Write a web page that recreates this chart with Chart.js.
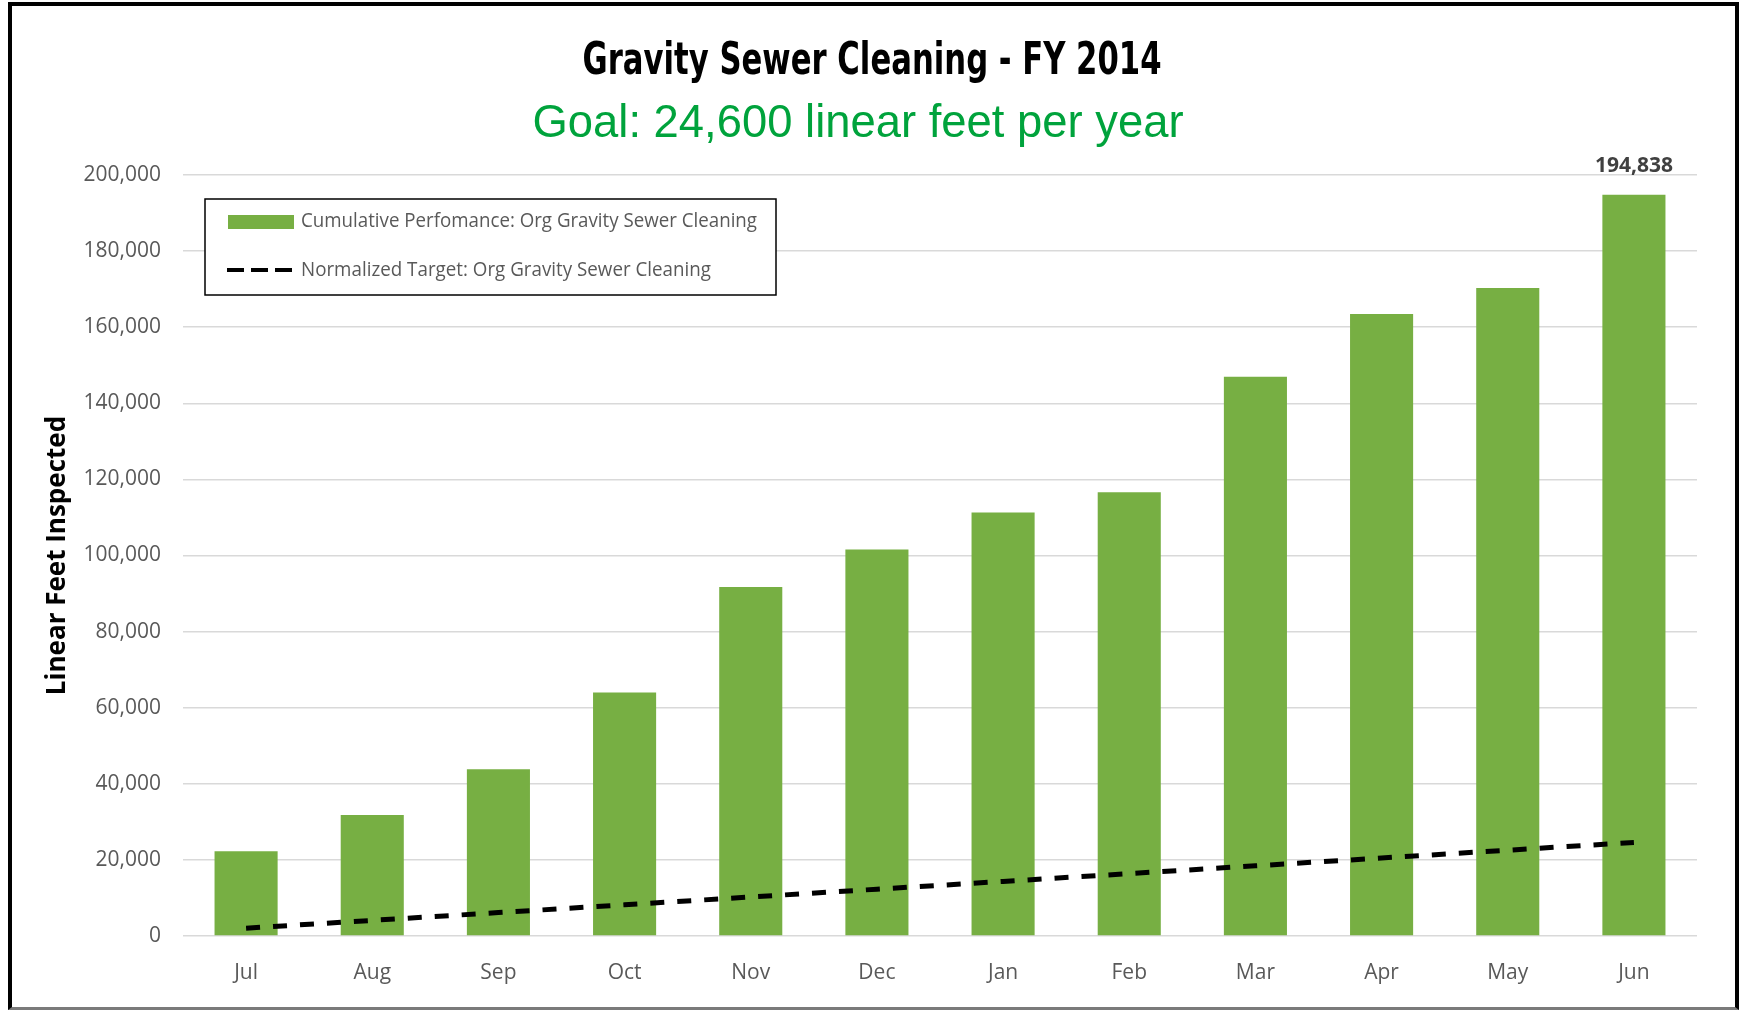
<!DOCTYPE html>
<html>
<head>
<meta charset="utf-8">
<title>Gravity Sewer Cleaning - FY 2014</title>
<script src="https://cdn.jsdelivr.net/npm/chart.js@4.4.1/dist/chart.umd.min.js"></script>
<style>
  html, body { margin: 0; padding: 0; background: #fff; }
  #wrap { position: relative; width: 1741px; height: 1011px; overflow: hidden; }
  #frame {
    position: absolute; left: 8px; top: 2px; width: 1731px; height: 1008px;
    border: 4px solid #000; border-bottom: 3px solid #7a7a7a;
    box-sizing: border-box; pointer-events: none;
  }
  canvas { position: absolute; left: 0; top: 0; }
</style>
</head>
<body>
<div id="wrap">
  <canvas id="chart" width="1741" height="1011"></canvas>
  <div id="frame"></div>
</div>
<script>
// chart data
const months = ["Jul", "Aug", "Sep", "Oct", "Nov", "Dec", "Jan", "Feb", "Mar", "Apr", "May", "Jun"];
const cumulative = [22300, 31800, 43800, 64000, 91700, 101600, 111300, 116600, 147000, 163500, 170300, 194838];
const target = [2050, 4100, 6150, 8200, 10250, 12300, 14350, 16400, 18450, 20500, 22550, 24600];
const yMax = 200000;
const yStep = 20000;

const titleText = "Gravity Sewer Cleaning - FY 2014";
const subtitleText = "Goal: 24,600 linear feet per year";
const barLabel = "Cumulative Perfomance: Org Gravity Sewer Cleaning";
const lineLabel = "Normalized Target: Org Gravity Sewer Cleaning";

const green = "#77AF43";
const tickColor = "#595959";

// titles, legend box and the last-bar label
const overlay = {
  id: "overlay",
  afterDraw(chart) {
    const ctx = chart.ctx;
    ctx.save();

    ctx.textAlign = "center";
    ctx.textBaseline = "alphabetic";
    ctx.fillStyle = "#000";
    ctx.font = 'bold 45px "Liberation Sans Narrow", "DejaVu Sans Condensed", sans-serif';
    ctx.fillText(titleText, 872, 74, 579);

    ctx.fillStyle = "#00A33C";
    ctx.font = '46px "Liberation Sans", Arial, sans-serif';
    ctx.fillText(subtitleText, 858, 137, 651);

    // data label on the last bar
    const meta = chart.getDatasetMeta(0);
    const last = meta.data[meta.data.length - 1];
    ctx.fillStyle = "#404040";
    ctx.font = 'bold 21px "Open Sans", sans-serif';
    ctx.textBaseline = "middle";
    ctx.fillText(cumulative[cumulative.length - 1].toLocaleString("en-US"), last.x, 166, 82);

    // legend
    ctx.fillStyle = "#fff";
    ctx.fillRect(205, 199, 571, 96);
    ctx.strokeStyle = "#000";
    ctx.lineWidth = 1.5;
    ctx.strokeRect(205, 199, 571, 96);

    ctx.fillStyle = green;
    ctx.fillRect(228, 215, 66, 14);

    ctx.beginPath();
    ctx.setLineDash([17, 7]);
    ctx.lineWidth = 4;
    ctx.strokeStyle = "#000";
    ctx.moveTo(227, 270);
    ctx.lineTo(294, 270);
    ctx.stroke();
    ctx.setLineDash([]);

    ctx.fillStyle = tickColor;
    ctx.textAlign = "left";
    ctx.font = '20px "Open Sans", sans-serif';
    ctx.fillText(barLabel, 301, 221, 456);
    ctx.fillText(lineLabel, 301, 270, 410);

    ctx.restore();
  }
};

const ctx = document.getElementById("chart").getContext("2d");
new Chart(ctx, {
  type: "bar",
  data: {
    labels: months,
    datasets: [
      {
        type: "bar",
        label: barLabel,
        data: cumulative,
        backgroundColor: green,
        barPercentage: 0.5,
        categoryPercentage: 1.0,
        order: 2
      },
      {
        type: "line",
        label: lineLabel,
        data: target,
        borderColor: "#000",
        borderWidth: 5,
        borderDash: [14, 13],
        pointRadius: 0,
        fill: false,
        tension: 0,
        order: 1
      }
    ]
  },
  options: {
    responsive: false,
    animation: false,
    layout: { padding: { top: 175, right: 44, bottom: 0, left: 0 } },
    plugins: {
      legend: { display: false },
      tooltip: { enabled: false }
    },
    scales: {
      x: {
        grid: { display: false, drawTicks: false },
        border: { display: false },
        ticks: {
          color: tickColor,
          font: { family: "Open Sans", size: 21 },
          padding: 24
        },
        afterFit(scale) { scale.height = 75; }
      },
      y: {
        min: 0,
        max: yMax,
        grid: { color: "#d9d9d9", lineWidth: 1.5, drawTicks: false },
        border: { display: false },
        ticks: {
          stepSize: yStep,
          color: tickColor,
          font: { family: "Open Sans", size: 21 },
          padding: 22,
          callback: (v) => v.toLocaleString("en-US")
        },
        title: {
          display: true,
          text: "Linear Feet Inspected",
          color: "#000",
          font: { family: "Open Sans", size: 26, weight: "bold" },
          padding: { top: 42, bottom: 0 }
        },
        afterFit(scale) { scale.width = 183; }
      }
    }
  },
  plugins: [overlay]
});
</script>
</body>
</html>
